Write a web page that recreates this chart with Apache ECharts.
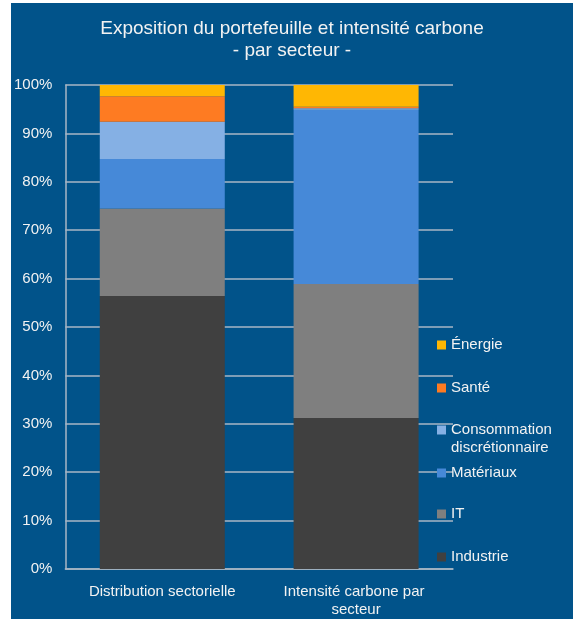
<!DOCTYPE html>
<html>
<head>
<meta charset="utf-8">
<script src="https://cdn.jsdelivr.net/npm/echarts@6/dist/echarts.min.js"></script>
<style>
  html, body { margin: 0; padding: 0; background: #ffffff; width: 573px; height: 619px; overflow: hidden; }
  #chart { position: absolute; left: 11px; top: 3px; width: 562px; height: 616px; }
</style>
</head>
<body>
<div id="chart"></div>
<script>
// Categories (x axis)
const categories = ['Distribution sectorielle', 'Intensité carbone par secteur'];
// Sector names, stacked bottom to top
const sectors = ['Industrie', 'IT', 'Matériaux', 'Consommation discrétionnaire', 'Santé', 'Énergie'];
// Values (%) per sector: [Distribution sectorielle, Intensité carbone par secteur]
const industrie = [56.4, 31.2];
const it = [18.1, 27.7];
const materiaux = [10.2, 36.0];
const consommation = [7.7, 0.3];
const sante = [5.3, 0.3];
const energie = [2.3, 4.5];
// Y tick labels
const yTicks = ['0%', '10%', '20%', '30%', '40%', '50%', '60%', '70%', '80%', '90%', '100%'];

const seriesValues = [industrie, it, materiaux, consommation, sante, energie];
const colors = ['#404040', '#7f7f7f', '#4689d8', '#85b0e4', '#fe7b22', '#ffb703'];

const txt = '#f2f2f2';
const font = 'Liberation Sans, Arial, sans-serif';

const chart = echarts.init(document.getElementById('chart'), null, { renderer: 'canvas' });

// One legend component per entry so they can be placed like the original (top entry = Énergie)
const legendCenters = { 'Énergie': 342, 'Santé': 385, 'Consommation discrétionnaire': 427, 'Matériaux': 470, 'IT': 511, 'Industrie': 554 };
const legends = sectors.map(function (name) {
  const isTwo = name === 'Consommation discrétionnaire';
  return {
    orient: 'vertical',
    left: 426,
    top: legendCenters[name] - (isTwo ? 27 : 9),
    padding: 0,
    itemWidth: 9,
    itemHeight: 9,
    icon: 'rect',
    selectedMode: false,
    data: [name],
    formatter: function (n) { return n === 'Consommation discrétionnaire' ? '\nConsommation\ndiscrétionnaire' : n; },
    textStyle: { color: txt, fontSize: 15, fontFamily: font, lineHeight: 18 }
  };
});

const option = {
  backgroundColor: '#01538a',
  animation: false,
  title: {
    text: 'Exposition du portefeuille et intensité carbone\n- par secteur -',
    left: 'center',
    top: 10,
    textStyle: { color: txt, fontSize: 19, fontWeight: 'normal', fontFamily: font, lineHeight: 22 }
  },
  legend: legends,
  grid: { left: 54, right: 120, top: 82, bottom: 50, containLabel: false },
  xAxis: {
    type: 'category',
    data: categories,
    axisLine: { show: true, lineStyle: { color: '#a8b6c4', width: 1.5 } },
    axisTick: { show: false },
    axisLabel: {
      color: txt, fontSize: 15, fontFamily: font, margin: 14, lineHeight: 18,
      width: 180, overflow: 'break', interval: 0
    }
  },
  yAxis: {
    type: 'value',
    min: 0,
    max: 100,
    interval: 10,
    axisLine: { show: true, lineStyle: { color: '#a8b6c4', width: 1.5 } },
    axisTick: { show: false },
    splitLine: { show: true, lineStyle: { color: '#a8b6c4', width: 1.5 } },
    axisLabel: {
      color: txt, fontSize: 15, fontFamily: font, margin: 13,
      formatter: function (v) { return yTicks[Math.round(v / 10)]; }
    }
  },
  series: sectors.map(function (name, i) {
    return {
      name: name,
      type: 'bar',
      stack: 'total',
      barWidth: '64.5%',
      data: seriesValues[i],
      itemStyle: { color: colors[i] },
      emphasis: { disabled: true }
    };
  })
};

chart.setOption(option);
</script>
</body>
</html>
